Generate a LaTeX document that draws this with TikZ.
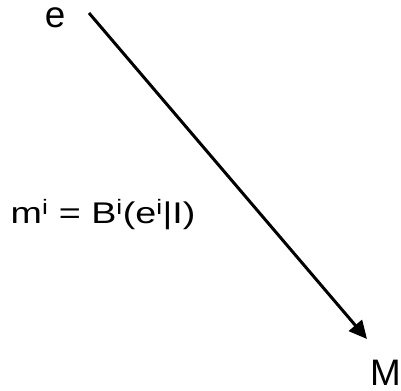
\documentclass[tikz,border=0pt]{standalone}
\usepackage{fontspec}
\setmainfont{Liberation Sans}
\newfontfamily\widesans[FakeStretch=1.26]{Liberation Sans}
\usetikzlibrary{arrows.meta}
\tikzset{
  term/.style={inner sep=0pt, font=\fontsize{37}{44}\selectfont},
  rule/.style={inner sep=0pt, font=\widesans\fontsize{30}{36}\selectfont},
  flow/.style={-{Triangle[length=18bp,width=17bp]}, line width=3bp, draw=black}
}

\begin{document}
\begin{tikzpicture}[x=1bp, y=-1bp]
  \useasboundingbox (0,0) rectangle (401,391);
  \node[term, anchor=base] (e) at (55,27.5) {e};
  \node[term, anchor=base west] (M) at (370,385) {M};
  \node[rule, anchor=base west] (m) at (10.5,223) {m\textsuperscript{i} = B\textsuperscript{i}(e\textsuperscript{i}|I)};

  \coordinate (tail) at (89,13);
  \coordinate (head) at (367,339);
  \draw[flow] (tail) -- (head);
\end{tikzpicture}
\end{document}
